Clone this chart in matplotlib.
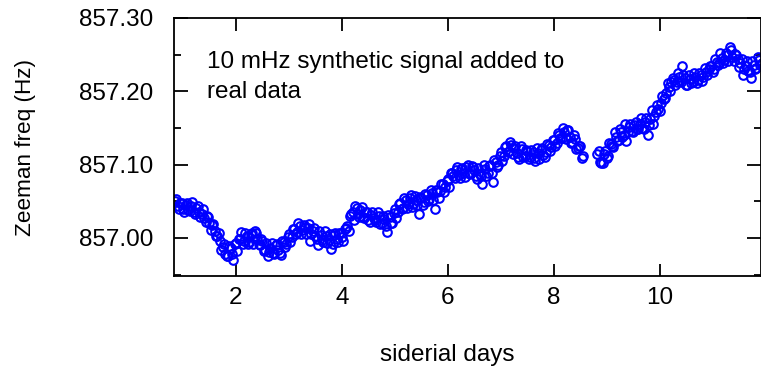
import numpy as np
import matplotlib
matplotlib.use('agg')
import matplotlib.pyplot as plt
from matplotlib.ticker import MultipleLocator, FormatStrFormatter

plt.rcParams['font.family'] = ['Liberation Sans', 'DejaVu Sans']

# segment 1: 0.85 .. 8.55 siderial days, every 0.05 d
t1_start, t1_end = 0.85, 8.55
freq1 = [
    857.050, 857.043, 857.047, 857.040, 857.045, 857.038, 857.043, 857.036, 857.041, 857.035,
    857.033, 857.027, 857.030, 857.020, 857.018, 857.010, 857.003, 856.996, 856.988, 856.978,
    856.975, 856.986, 856.970, 856.993, 856.998, 857.008, 856.996, 857.002, 856.994, 857.006,
    857.010, 856.999, 856.990, 856.996, 856.983, 856.975, 856.986, 856.980, 856.990, 856.983,
    856.976, 856.995, 856.992, 857.005, 857.001, 857.012, 857.008, 857.016, 857.011, 857.015,
    857.014, 856.996, 857.010, 857.002, 856.990, 857.004, 856.995, 857.003, 856.997, 856.985,
    857.004, 856.998, 857.006, 857.001, 857.012, 857.016, 857.030, 857.036, 857.043, 857.033,
    857.038, 857.029, 857.035, 857.024, 857.031, 857.027, 857.021, 857.030, 857.020, 857.026,
    857.008, 857.028, 857.020, 857.040, 857.036, 857.048, 857.041, 857.052, 857.046, 857.058,
    857.046, 857.052, 857.032, 857.055, 857.049, 857.058, 857.053, 857.061, 857.040, 857.063,
    857.064, 857.074, 857.070, 857.081, 857.088, 857.084, 857.093, 857.086, 857.094, 857.088,
    857.097, 857.089, 857.098, 857.092, 857.080, 857.087, 857.073, 857.094, 857.089, 857.100,
    857.076, 857.104, 857.100, 857.117, 857.112, 857.125, 857.118, 857.127, 857.122, 857.116,
    857.108, 857.121, 857.112, 857.119, 857.110, 857.117, 857.105, 857.116, 857.120, 857.113,
    857.117, 857.127, 857.124, 857.133, 857.130, 857.140, 857.136, 857.145, 857.147, 857.138,
    857.131, 857.135, 857.122, 857.125, 857.112,
]
# the in-between samples, 0.875 .. 8.525
t1b_start, t1b_end = 0.875, 8.525
freq1b = [
    857.053, 857.039, 857.048, 857.035, 857.048, 857.037, 857.049, 857.032, 857.043, 857.029,
    857.039, 857.022, 857.028, 857.011, 857.019, 857.002, 857.007, 856.984, 856.991, 856.975,
    856.989, 856.978, 856.991, 856.982, 856.999, 856.992, 857.007, 856.992, 857.005, 856.992,
    857.006, 856.991, 856.998, 856.982, 856.993, 856.981, 856.993, 856.978, 856.991, 856.979,
    856.996, 856.987, 857.001, 856.994, 857.012, 857.005, 857.020, 857.005, 857.018, 857.005,
    857.019, 857.005, 857.013, 856.998, 857.009, 856.997, 857.009, 856.993, 857.005, 856.992,
    857.007, 856.995, 857.006, 856.996, 857.014, 857.010, 857.032, 857.024, 857.041, 857.029,
    857.042, 857.027, 857.035, 857.022, 857.035, 857.024, 857.036, 857.019, 857.030, 857.016,
    857.031, 857.020, 857.034, 857.027, 857.046, 857.040, 857.055, 857.041, 857.054, 857.042,
    857.057, 857.045, 857.056, 857.045, 857.060, 857.051, 857.066, 857.052, 857.066, 857.055,
    857.073, 857.063, 857.077, 857.070, 857.089, 857.082, 857.097, 857.082, 857.095, 857.083,
    857.099, 857.087, 857.097, 857.084, 857.096, 857.085, 857.099, 857.084, 857.098, 857.088,
    857.106, 857.097, 857.112, 857.105, 857.124, 857.117, 857.131, 857.114, 857.125, 857.111,
    857.125, 857.111, 857.120, 857.107, 857.120, 857.109, 857.122, 857.108, 857.122, 857.111,
    857.128, 857.119, 857.133, 857.125, 857.143, 857.136, 857.150, 857.135, 857.147, 857.130,
    857.140, 857.121, 857.125, 857.109,
]

# segment 2 after the gap: 8.82 .. 11.92
t2_start, t2_end = 8.82, 11.92
freq2 = [
    857.115, 857.104, 857.102, 857.118, 857.112, 857.128, 857.124, 857.137, 857.133, 857.145,
    857.140, 857.132, 857.151, 857.146, 857.154, 857.149, 857.156, 857.150, 857.158, 857.141,
    857.162, 857.156, 857.172, 857.176, 857.184, 857.190, 857.198, 857.206, 857.212, 857.216,
    857.213, 857.220, 857.234, 857.218, 857.208, 857.217, 857.212, 857.219, 857.215, 857.222,
    857.219, 857.226, 857.230, 857.234, 857.231, 857.240, 857.238, 857.246, 857.243, 857.250,
    857.261, 857.247, 857.251, 857.244, 857.238, 857.222, 857.234, 857.228, 857.218, 857.236,
    857.232, 857.243, 857.239,
]
t2b_start, t2b_end = 8.845, 11.895
freq2b = [
    857.118, 857.102, 857.114, 857.109, 857.129, 857.126, 857.144, 857.132, 857.148, 857.138,
    857.155, 857.144, 857.155, 857.144, 857.158, 857.149, 857.163, 857.149, 857.163, 857.154,
    857.174, 857.166, 857.181, 857.173, 857.194, 857.191, 857.211, 857.201, 857.218, 857.208,
    857.225, 857.213, 857.222, 857.209, 857.222, 857.211, 857.225, 857.211, 857.225, 857.214,
    857.232, 857.222, 857.235, 857.227, 857.244, 857.236, 857.252, 857.238, 857.252, 857.241,
    857.256, 857.241, 857.249, 857.233, 857.244, 857.231, 857.242, 857.227, 857.241, 857.230,
    857.247, 857.236,
]

segments = [
    (np.linspace(t1_start, t1_end, len(freq1)), freq1),
    (np.linspace(t1b_start, t1b_end, len(freq1b)), freq1b),
    (np.linspace(t2_start, t2_end, len(freq2)), freq2),
    (np.linspace(t2b_start, t2b_end, len(freq2b)), freq2b),
]

fig = plt.figure(figsize=(7.61, 3.68), dpi=100)
ax = fig.add_axes([174/761, 1 - 276/368, 586.5/761, 258/368])

for t, f in segments:
    ax.plot(t, f, 'o', ls='none', mfc='none', mec='#0000ff', ms=6.2, mew=1.5)

ax.set_xlim(0.83, 11.9)
ax.set_ylim(856.948, 857.30)
ax.xaxis.set_major_locator(MultipleLocator(2))
ax.yaxis.set_major_locator(MultipleLocator(0.1))
ax.yaxis.set_minor_locator(MultipleLocator(0.05))
ax.yaxis.set_major_formatter(FormatStrFormatter('%.2f'))

ax.tick_params(which='both', direction='in', top=True, right=True, width=1.3, labelsize=17.5)
ax.tick_params(axis='x', which='major', length=9, pad=8)
ax.tick_params(axis='y', which='major', length=10, pad=15)
ax.tick_params(axis='y', which='minor', length=5)
for s in ax.spines.values():
    s.set_linewidth(1.3)

ax.set_xlabel('siderial days', fontsize=17.5)
ax.xaxis.set_label_coords(0.466, -0.262)
ax.set_ylabel('Zeeman freq (Hz)', fontsize=16.2)
ax.yaxis.set_label_coords(-0.236, 0.5)

ax.text(0.056, 0.872, '10 mHz synthetic signal added to\nreal data', transform=ax.transAxes,
        fontsize=17.5, va='top', ha='left', linespacing=1.45)

plt.savefig('out.png', dpi=100)
